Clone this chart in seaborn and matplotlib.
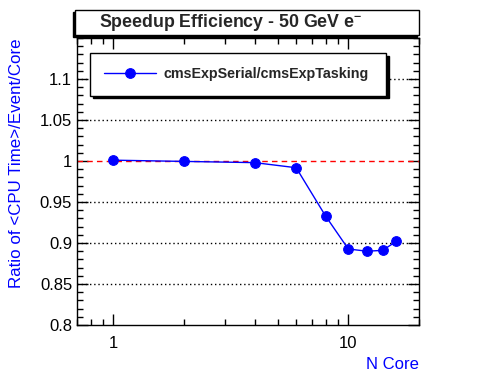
import numpy as np
import pandas as pd
import matplotlib
matplotlib.use("Agg")
import matplotlib.pyplot as plt
import matplotlib.ticker as mticker
from matplotlib.patches import Rectangle
import seaborn as sns

# data
n_core = [1, 2, 4, 6, 8, 10, 12, 14, 16]
ratio = [1.001, 0.9995, 0.998, 0.9918, 0.933, 0.8927, 0.890, 0.891, 0.902]
series_label = "cmsExpSerial/cmsExpTasking"
title = "Speedup Efficiency - 50 GeV e$^{-}$"
y_ticks = [0.8, 0.85, 0.9, 0.95, 1.0, 1.05, 1.1]

sns.set_theme(style="ticks")
plt.rcParams['font.family'] = ['Liberation Sans', 'DejaVu Sans']
plt.rcParams['mathtext.fontset'] = 'custom'
plt.rcParams['mathtext.rm'] = 'Liberation Sans:bold'

df = pd.DataFrame({"ncore": n_core, "ratio": ratio})

fig = plt.figure(figsize=(4.96, 3.72), dpi=100)
W, H = 496, 372
ax = fig.add_axes([77 / W, 1 - 325 / H, (419 - 77) / W, (325 - 38) / H])

# reference line at 1 and dotted grid
ax.axhline(1.0, color='red', ls=(0, (4, 3)), lw=1, zorder=1)
for yv in y_ticks:
    if yv not in (0.8, 1.0):
        ax.axhline(yv, color='black', ls=(0, (1, 2)), lw=1, zorder=1)

sns.lineplot(data=df, x="ncore", y="ratio", ax=ax, color='blue', lw=1,
             marker='o', markersize=7, markeredgecolor='blue',
             label=series_label, zorder=3)

ax.set_xscale('log')
ax.set_xlim(0.7, 20)
ax.set_ylim(0.8, 1.15)
ax.xaxis.set_major_locator(mticker.FixedLocator([1, 10]))
ax.xaxis.set_major_formatter(mticker.FixedFormatter(["1", "10"]))
ax.xaxis.set_minor_locator(mticker.LogLocator(base=10, subs=np.arange(2, 10)))
ax.xaxis.set_minor_formatter(mticker.NullFormatter())
ax.yaxis.set_major_locator(mticker.FixedLocator(y_ticks))
ax.yaxis.set_major_formatter(mticker.FuncFormatter(lambda v, p: f"{v:g}"))
ax.yaxis.set_minor_locator(mticker.MultipleLocator(0.01))

ax.tick_params(which='both', direction='in', top=True, right=True,
               labelsize=12, colors='black', width=1)
ax.tick_params(which='major', length=8)
ax.tick_params(which='minor', length=4)
ax.tick_params(axis='x', which='major', pad=8)
for s in ax.spines.values():
    s.set_color('black')
    s.set_linewidth(1)

ax.set_xlabel("N Core", color='blue', fontsize=12, loc='right', labelpad=4)
ax.set_ylabel("")
fig.text(17 / W, 1 - 38 / H, "Ratio of <CPU Time>/Event/Core", color='blue',
         fontsize=12.2, rotation=90, ha='center', va='top')

leg = ax.legend(loc='upper left',
                bbox_to_anchor=((90 - 77) / 342, 1 - (53 - 38) / 287 - 0.01, (386 - 90) / 342, 0.01),
                mode='expand', borderaxespad=0, frameon=True, fancybox=False,
                shadow={'color': 'black', 'alpha': 1},
                edgecolor='black', framealpha=1, borderpad=1.0, handlelength=3.6,
                handletextpad=0.55, prop={'weight': 'bold', 'size': 10.3})
leg.get_frame().set_linewidth(1)

# title box with shadow
fig.patches.append(Rectangle((73 / W, 1 - 37 / H), (419 - 75) / W, 25 / H,
                             transform=fig.transFigure, facecolor='black', edgecolor='black', zorder=1))
fig.patches.append(Rectangle((75 / W, 1 - 35 / H), (419 - 75) / W, 25 / H,
                             transform=fig.transFigure, facecolor='white', edgecolor='black', lw=1, zorder=2))
fig.text(231 / W, 1 - 22.5 / H, title, fontsize=12.8, fontweight='bold', ha='center', va='center', zorder=3)

fig.savefig("out.png", dpi=100)
